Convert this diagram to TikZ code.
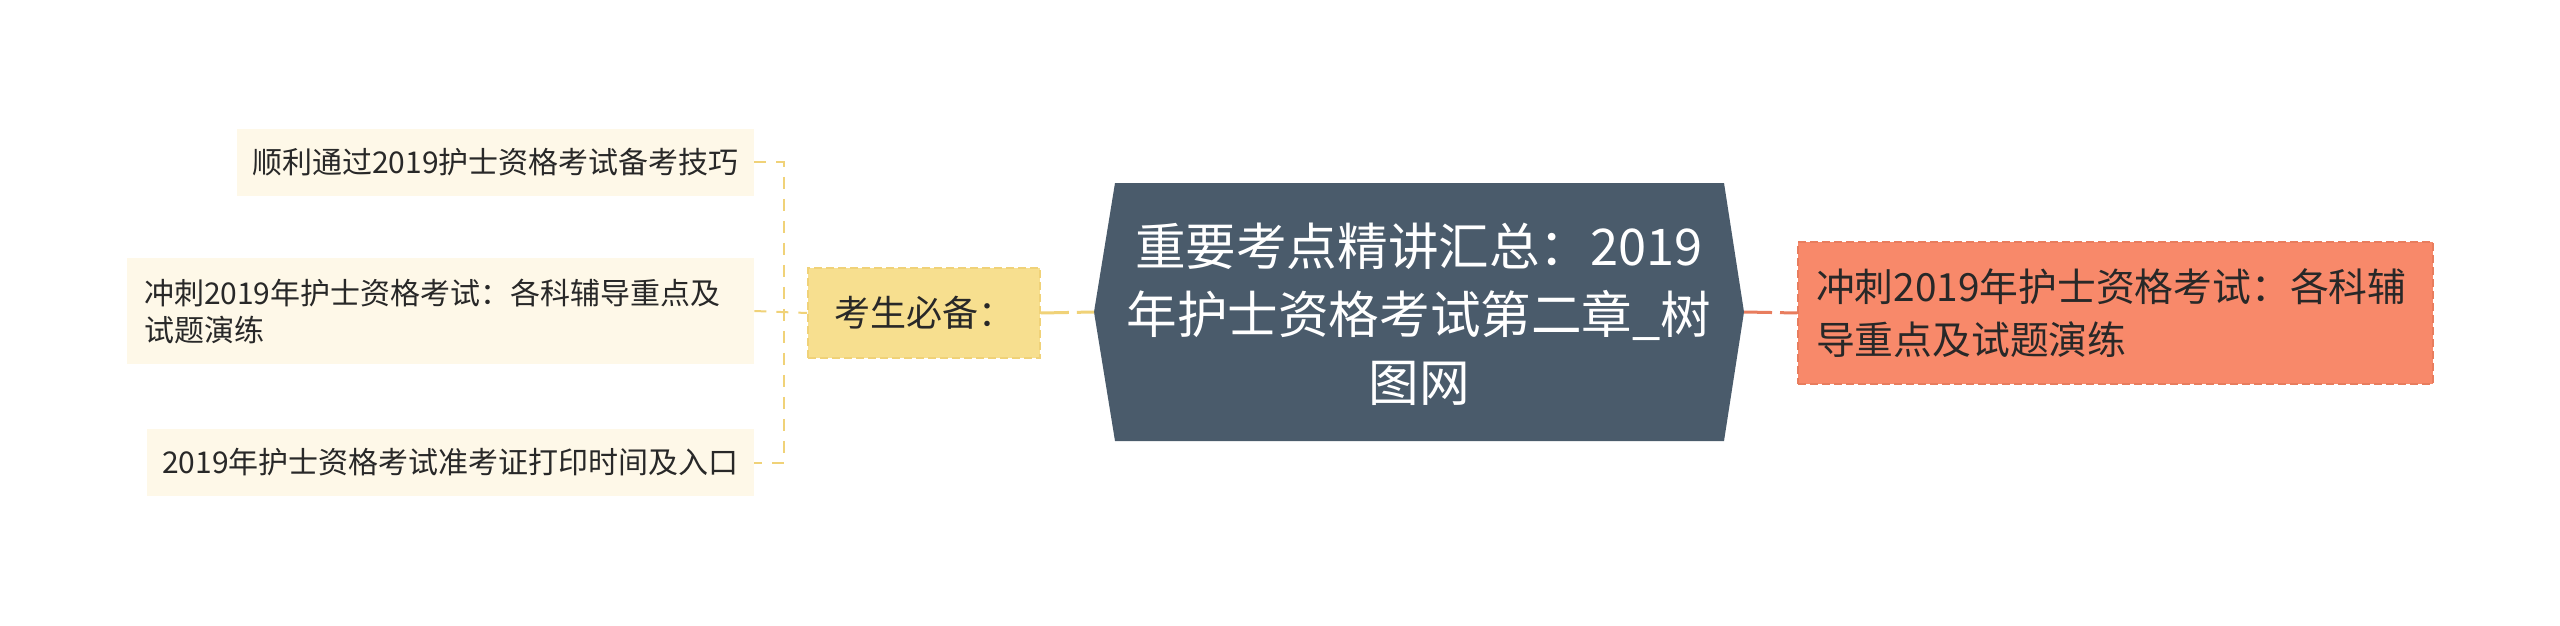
\documentclass[tikz,border=0pt]{standalone}
\usepackage{fontspec}
\setmainfont{Noto Sans CJK SC}
\definecolor{slate}{RGB}{74,91,107}
\definecolor{salmon}{RGB}{248,137,106}
\definecolor{salmonline}{RGB}{232,125,94}
\definecolor{ylw}{RGB}{247,223,143}
\definecolor{ylwline}{RGB}{240,210,120}
\definecolor{cream}{RGB}{254,248,232}
\definecolor{txt}{RGB}{40,40,40}
\tikzset{
  leafbox/.style={fill=cream, draw=none, text=txt, font=\fontsize{15pt}{18.5pt}\selectfont, inner sep=0pt},
  ybr/.style={draw=ylwline, line width=1pt, dash pattern=on 6pt off 5pt},
  sbr/.style={draw=salmonline, line width=1.5pt, dash pattern=on 14pt off 4pt},
}
\begin{document}
\begin{tikzpicture}[x=0.5pt, y=-0.5pt]
\useasboundingbox[fill=white] (0,0) rectangle (2560,626);
% central hexagon
\fill[slate] (1094,312) -- (1115,183) -- (1724,183) -- (1744,312) -- (1724,441) -- (1115,441) -- cycle;
\coordinate (cl) at (1094,312);
\coordinate (cr) at (1744,312);
\node[text=white, font=\fontsize{25.3pt}{34pt}\selectfont, align=center] (center) at (1419,314)
  {重要考点精讲汇总：2019\\年护士资格考试第二章\_树\\图网};
% right node
\node[fill=salmon, draw=salmonline, dash pattern=on 4pt off 2pt, line width=0.8pt, text=txt,
  font=\fontsize{19.4pt}{26.5pt}\selectfont, align=left, text width=299.5pt, inner xsep=9pt,
  minimum height=71pt, inner ysep=0pt] (rn) at (2115.5,313)
  {冲刺2019年护士资格考试：各科辅\\导重点及试题演练};
% yellow node
\node[fill=ylw, draw=ylwline, dash pattern=on 4pt off 2pt, line width=0.8pt, text=txt,
  font=\fontsize{18pt}{22pt}\selectfont, minimum width=116pt, minimum height=45pt, inner sep=0pt] (yel) at (924,313)
  {考生必备：};
% left leaves
\node[leafbox, minimum width=258.5pt, minimum height=33.5pt] (n1) at (495.5,162.5)
  {顺利通过2019护士资格考试备考技巧};
\node[leafbox, align=left, text width=296.5pt, inner xsep=8.5pt, minimum height=53pt] (n2) at (440.5,311)
  {冲刺2019年护士资格考试：各科辅导重点及\\试题演练};
\node[leafbox, minimum width=303.5pt, minimum height=33.5pt] (n3) at (450.5,462.5)
  {2019年护士资格考试准考证打印时间及入口};
% connectors
\coordinate (bx) at (784,313);
\draw[ybr] (n1.east) -- (n1.east -| bx) -- (n3.east -| bx) -- (n3.east);
\draw[ybr] (n2.east) -- (yel.west);
\draw[ybr, line width=1.5pt, dash pattern=on 14pt off 4pt] (yel.east) -- (cl);
\draw[sbr] (cr) -- (rn.west);
\end{tikzpicture}
\end{document}
